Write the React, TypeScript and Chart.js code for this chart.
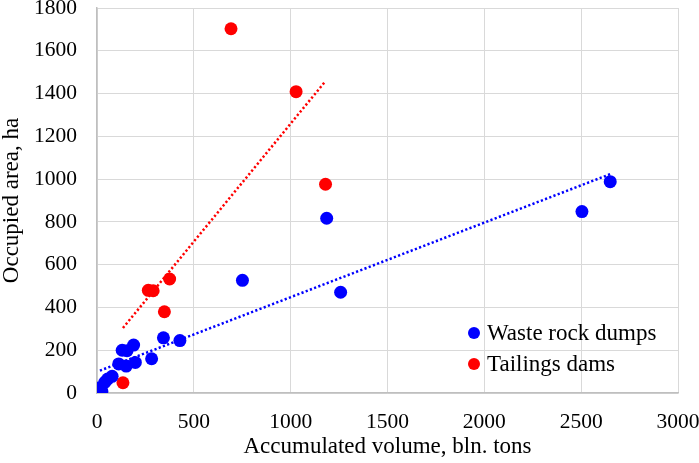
import { useEffect, useRef } from "react";
import Chart from "chart.js/auto";

// values (volume in bln. tons, area in ha)
const wasteVolume = [15, 25, 40, 55, 78, 112, 151, 198, 130, 155, 189, 282, 343, 428, 751, 1186, 1258, 2504, 2650];
const wasteArea = [25, 8, 50, 65, 78, 136, 126, 143, 200, 198, 224, 160, 258, 245, 527, 817, 471, 848, 988];
const tailingsVolume = [692, 1028, 1180, 375, 265, 290, 348, 134];
const tailingsArea = [1703, 1409, 976, 533, 480, 478, 380, 48];

const seriesNames = ["Waste rock dumps", "Tailings dams"];
const seriesColors = ["#0000ff", "#ff0000"];

const FONT = "'Liberation Serif', 'Times New Roman', serif";

function toPoints(xs: number[], ys: number[]) {
    return xs.map((x, i) => ({ x, y: ys[i] }));
}

// least squares line over the x range of the series, like the spreadsheet trendline
function trendline(xs: number[], ys: number[]) {
    const n = xs.length;
    const mx = xs.reduce((a, b) => a + b, 0) / n;
    const my = ys.reduce((a, b) => a + b, 0) / n;
    let sxy = 0;
    let sxx = 0;
    xs.forEach((x, i) => {
        sxy += (x - mx) * (ys[i] - my);
        sxx += (x - mx) * (x - mx);
    });
    const slope = sxy / sxx;
    const intercept = my - slope * mx;
    const lo = Math.min(...xs);
    const hi = Math.max(...xs);
    return [
        { x: lo, y: intercept + slope * lo },
        { x: hi, y: intercept + slope * hi },
    ];
}

const legendInArea = {
    id: "legendInArea",
    afterDatasetsDraw(chart: any) {
        const { ctx, chartArea } = chart;
        ctx.save();
        ctx.font = `23px ${FONT}`;
        ctx.textBaseline = "middle";
        ctx.textAlign = "left";
        seriesNames.forEach((name, i) => {
            const cx = chartArea.right - 204;
            const cy = chartArea.bottom - 60 + i * 31;
            ctx.fillStyle = seriesColors[i];
            ctx.beginPath();
            ctx.arc(cx, cy, 6, 0, Math.PI * 2);
            ctx.fill();
            ctx.fillStyle = "#000";
            ctx.fillText(name, cx + 13, cy + 1);
        });
        ctx.restore();
    },
};

export default function App() {
    const canvasRef = useRef<HTMLCanvasElement | null>(null);

    useEffect(() => {
        if (!canvasRef.current) {
            return;
        }

        const chart = new Chart(canvasRef.current, {
            type: "scatter",
            data: {
                datasets: [
                    {
                        label: seriesNames[0],
                        data: toPoints(wasteVolume, wasteArea),
                        backgroundColor: seriesColors[0],
                        borderWidth: 0,
                        pointRadius: 6.5,
                        order: 1,
                    },
                    {
                        label: seriesNames[1],
                        data: toPoints(tailingsVolume, tailingsArea),
                        backgroundColor: seriesColors[1],
                        borderWidth: 0,
                        pointRadius: 6.5,
                        order: 1,
                    },
                    {
                        type: "line",
                        label: "trend1",
                        data: trendline(wasteVolume, wasteArea),
                        borderColor: seriesColors[0],
                        borderWidth: 2.5,
                        borderDash: [2.2, 2.3],
                        pointRadius: 0,
                        fill: false,
                        order: 0,
                    },
                    {
                        type: "line",
                        label: "trend2",
                        data: trendline(tailingsVolume, tailingsArea),
                        borderColor: seriesColors[1],
                        borderWidth: 2.5,
                        borderDash: [2.2, 2.3],
                        pointRadius: 0,
                        fill: false,
                        order: 0,
                    },
                ],
            },
            options: {
                animation: false,
                responsive: true,
                maintainAspectRatio: false,
                layout: { padding: { top: 8, right: 21, left: 0, bottom: 0 } },
                plugins: {
                    legend: { display: false },
                    tooltip: { enabled: false },
                },
                scales: {
                    x: {
                        type: "linear",
                        min: 0,
                        max: 3000,
                        afterFit: (scale: any) => {
                            scale.height = 70;
                            scale.paddingLeft = 0;
                            scale.paddingRight = 0;
                        },
                        ticks: {
                            stepSize: 500,
                            padding: 16,
                            color: "#000",
                            font: { family: FONT, size: 21.5 },
                            callback: (v: any) => String(v),
                        },
                        grid: { color: "#d9d9d9", lineWidth: 1, drawTicks: false },
                        border: { color: "#bfbfbf", width: 1.5 },
                        title: {
                            display: true,
                            text: "Accumulated volume, bln. tons",
                            color: "#000",
                            font: { family: FONT, size: 23, lineHeight: 1 },
                            padding: { top: 0, bottom: 5 },
                        },
                    },
                    y: {
                        type: "linear",
                        min: 0,
                        max: 1800,
                        afterFit: (scale: any) => {
                            scale.width = 97;
                            scale.paddingTop = 0;
                            scale.paddingBottom = 0;
                        },
                        ticks: {
                            stepSize: 200,
                            padding: 20,
                            color: "#000",
                            font: { family: FONT, size: 21.5 },
                            callback: (v: any) => String(v),
                        },
                        grid: { color: "#d9d9d9", lineWidth: 1, drawTicks: false },
                        border: { color: "#bfbfbf", width: 1.5 },
                        title: {
                            display: true,
                            text: "Occupied area, ha",
                            color: "#000",
                            font: { family: FONT, size: 23, lineHeight: 1 },
                            padding: { top: 0, bottom: 0 },
                        },
                    },
                },
            },
            plugins: [legendInArea],
        });

        return () => chart.destroy();
    }, []);

    return (
        <div style={{ position: "fixed", left: 0, top: 0, width: 699, height: 463, background: "#fff" }}>
            <canvas ref={canvasRef} />
        </div>
    );
}
